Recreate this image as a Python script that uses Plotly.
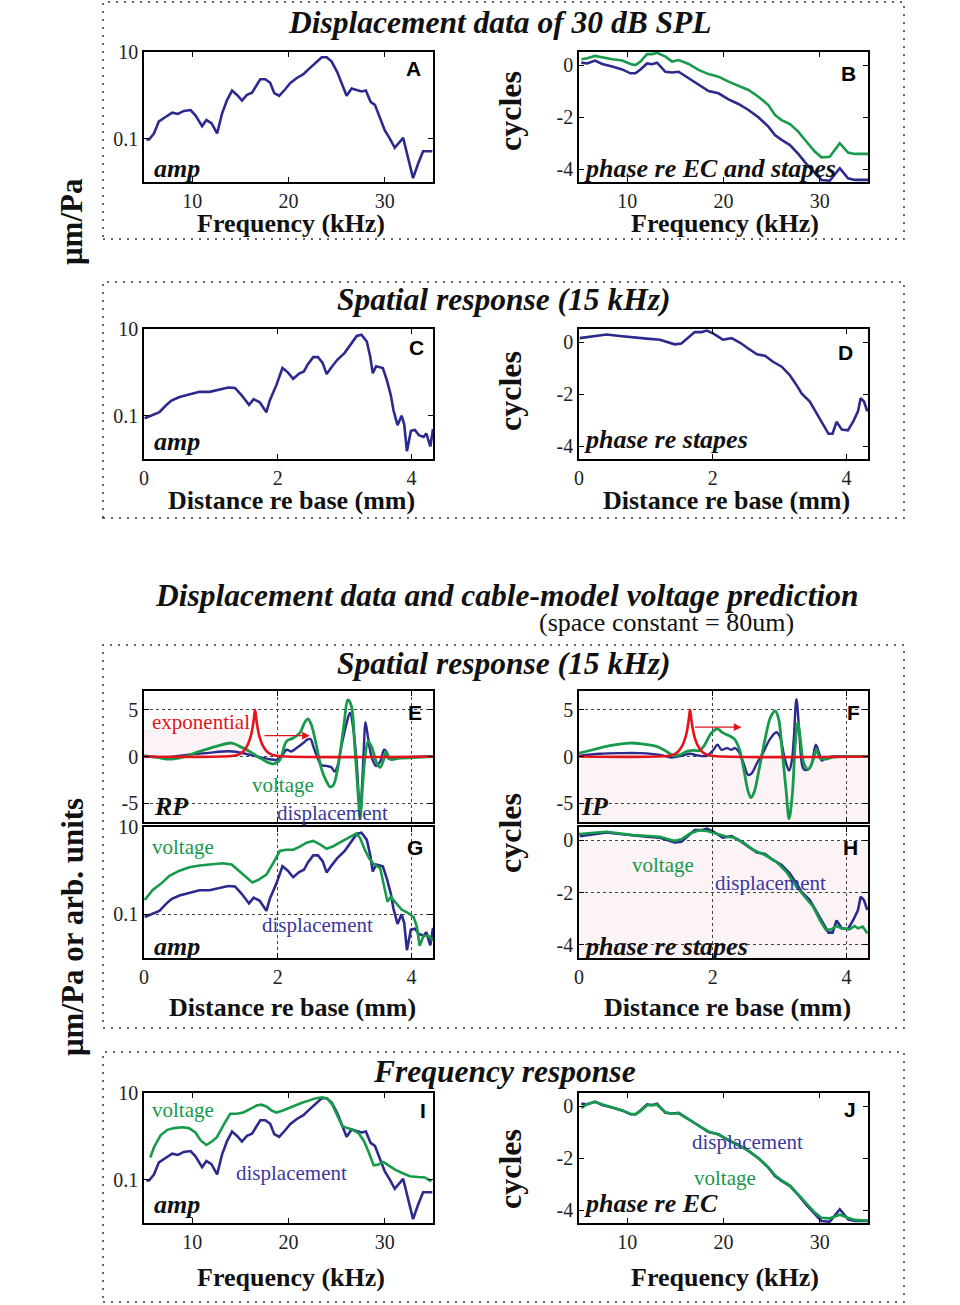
import plotly.graph_objects as go

W, H = 960, 1305
BLUE = '#2c2a8c'
BLUE_TXT = '#3a389e'
GREEN = '#179a4b'
RED = '#e4131b'
SERIF = 'Liberation Serif'
SANS = 'Liberation Sans'

# ---------------- data ----------------
# Panel A / I : displacement amplitude vs frequency, log10(um/Pa)
freq_amp = [5.24, 5.52, 6.03, 6.55, 7.24, 7.93, 8.52, 9.14, 9.83, 10.34, 11.03, 11.48, 12.0, 12.59, 13.10,
            13.62, 14.14, 14.66, 15.17, 15.69, 16.21, 16.72, 17.07, 17.59, 18.10, 18.52, 19.03, 19.66, 20.17,
            20.86, 21.55, 22.07, 22.76, 23.45, 23.97, 24.48, 25.07, 25.52, 26.03, 26.55, 27.07, 27.59, 28.03,
            28.52, 28.97, 29.48, 30.0, 30.52, 31.03, 31.9, 32.41, 32.93, 33.45, 33.97, 34.93]
amp_disp_log10 = [-1.02, -1.02, -0.88, -0.60, -0.50, -0.40, -0.43, -0.36, -0.34, -0.46, -0.71, -0.57, -0.64,
                  -0.88, -0.42, -0.11, 0.11, 0.01, -0.12, 0.01, 0.06, 0.24, 0.37, 0.37, 0.29, 0.05, -0.01, 0.14,
                  0.28, 0.40, 0.49, 0.60, 0.74, 0.88, 0.88, 0.78, 0.53, 0.28, -0.01, 0.16, 0.12, 0.09, 0.11,
                  -0.15, -0.22, -0.50, -0.81, -1.0, -1.21, -0.98, -1.47, -1.91, -1.58, -1.29, -1.29]
# Panel I voltage amplitude vs frequency, log10(arb.)
freq_volt = [5.65, 6.06, 6.74, 7.43, 8.12, 8.97, 9.66, 10.34, 10.86, 11.47, 12.05, 12.57, 13.25, 13.94, 14.62,
             15.31, 15.99, 16.68, 17.19, 17.71, 18.22, 18.73, 19.35, 20.03, 20.79, 21.47, 22.16, 22.84, 23.53,
             24.04, 24.55, 25.07, 25.58, 26.10, 26.61, 27.29, 27.81, 28.32, 28.84, 29.35, 29.86, 30.38, 31.06,
             31.75, 32.60, 33.46, 34.14, 34.83]
amp_volt_log10 = [-0.49, -0.24, 0.03, 0.15, 0.19, 0.21, 0.19, 0.09, -0.09, -0.20, -0.12, -0.02, 0.26, 0.52,
                  0.52, 0.55, 0.63, 0.71, 0.73, 0.69, 0.60, 0.55, 0.59, 0.65, 0.73, 0.78, 0.83, 0.88, 0.90,
                  0.87, 0.73, 0.50, 0.24, 0.19, 0.16, 0.07, -0.10, -0.36, -0.67, -0.65, -0.59, -0.67, -0.77,
                  -0.84, -0.92, -0.94, -0.95, -1.04]

# Panel B / J : phase vs frequency (cycles)
freq_ph = [5.24, 5.86, 6.66, 7.41, 8.45, 9.48, 10.34, 10.86, 11.38, 12.07, 12.59, 13.10, 13.97, 14.66, 15.34,
           16.38, 17.41, 18.45, 19.48, 20.52, 21.55, 22.59, 23.62, 24.66, 25.34, 26.03, 26.9, 27.76, 28.62,
           29.48, 30.17, 31.03, 31.55, 32.07, 32.93, 33.62, 35.0]
ph_disp_re_ec = [0.09, 0.06, 0.17, 0.04, -0.06, -0.17, -0.32, -0.32, -0.17, 0.06, 0.03, 0.09, -0.26, -0.29,
                 -0.26, -0.51, -0.77, -1.0, -1.09, -1.32, -1.5, -1.73, -2.01, -2.37, -2.69, -2.88, -3.08,
                 -3.42, -3.81, -4.14, -4.42, -4.45, -4.23, -3.97, -4.36, -4.42, -4.42]
ph_disp_re_stapes = [0.22, 0.26, 0.35, 0.29, 0.22, 0.17, 0.04, 0.0, 0.13, 0.42, 0.42, 0.47, 0.32, 0.13, 0.19,
                     0.04, -0.19, -0.35, -0.45, -0.64, -0.79, -0.96, -1.22, -1.54, -1.92, -2.12, -2.27, -2.56,
                     -2.95, -3.33, -3.55, -3.53, -3.27, -3.01, -3.37, -3.42, -3.42]
ph_volt_re_ec = [-0.08, 0.08, 0.15, 0.05, -0.06, -0.17, -0.30, -0.32, -0.20, 0.03, 0.04, 0.05, -0.24, -0.30,
                 -0.28, -0.50, -0.75, -0.98, -1.10, -1.30, -1.50, -1.72, -2.0, -2.36, -2.66, -2.86, -3.06,
                 -3.40, -3.78, -4.10, -4.30, -4.32, -4.25, -4.18, -4.30, -4.38, -4.42]

# Panel C / G : spatial amplitude (15 kHz), log10
dist_amp = [0.01, 0.11, 0.23, 0.33, 0.41, 0.53, 0.68, 0.83, 0.98, 1.13, 1.26, 1.36, 1.46, 1.57, 1.64, 1.73,
            1.83, 1.88, 1.98, 2.07, 2.15, 2.23, 2.32, 2.39, 2.45, 2.53, 2.60, 2.67, 2.73, 2.80, 2.89, 3.0,
            3.09, 3.18, 3.25, 3.33, 3.38, 3.42, 3.47, 3.57, 3.63, 3.69, 3.73, 3.79, 3.85, 3.89, 3.93, 3.99,
            4.05, 4.11, 4.18, 4.22, 4.28, 4.32]
sp_amp_disp_log10 = [-1.06, -1.0, -0.92, -0.76, -0.65, -0.57, -0.51, -0.45, -0.45, -0.39, -0.35, -0.36, -0.53,
                     -0.75, -0.62, -0.69, -0.92, -0.65, -0.29, 0.10, 0.0, -0.15, -0.03, 0.02, 0.19, 0.35,
                     0.35, 0.22, -0.04, 0.11, 0.29, 0.45, 0.65, 0.84, 0.87, 0.71, 0.37, -0.02, 0.14, 0.10,
                     -0.18, -0.53, -0.88, -1.22, -1.0, -1.20, -1.82, -1.35, -1.33, -1.45, -1.49, -1.41,
                     -1.71, -1.31]
dist_amp_v = [0.01, 0.13, 0.26, 0.38, 0.53, 0.68, 0.83, 0.98, 1.18, 1.31, 1.43, 1.53, 1.62, 1.71, 1.83, 1.93,
              2.03, 2.13, 2.23, 2.33, 2.43, 2.53, 2.63, 2.73, 2.83, 2.93, 3.05, 3.17, 3.23, 3.30, 3.37, 3.44,
              3.53, 3.59, 3.64, 3.69, 3.75, 3.85, 3.95, 4.03, 4.08, 4.12, 4.18, 4.25, 4.32]
sp_amp_volt_log10 = [-0.67, -0.44, -0.29, -0.12, 0.0, 0.08, 0.12, 0.14, 0.17, 0.14, -0.02, -0.17, -0.27,
                     -0.21, -0.09, 0.17, 0.45, 0.48, 0.48, 0.55, 0.64, 0.68, 0.60, 0.50, 0.56, 0.65, 0.75,
                     0.85, 0.75, 0.48, 0.27, 0.14, 0.06, -0.40, -0.71, -0.60, -0.71, -0.89, -0.97, -1.06,
                     -1.29, -1.72, -1.49, -1.49, -1.60]

# Panel D / H : spatial phase re stapes (cycles)
dist_ph = [0.01, 0.21, 0.41, 0.61, 0.81, 1.01, 1.21, 1.33, 1.43, 1.53, 1.63, 1.73, 1.83, 1.91, 2.01, 2.15,
           2.28, 2.41, 2.53, 2.66, 2.78, 2.90, 3.03, 3.15, 3.25, 3.33, 3.45, 3.55, 3.64, 3.73, 3.79, 3.85,
           3.93, 4.02, 4.10, 4.17, 4.21, 4.26, 4.31]
sp_ph_disp = [0.15, 0.23, 0.29, 0.23, 0.17, 0.13, 0.09, 0.0, -0.09, -0.06, 0.17, 0.38, 0.38, 0.44, 0.32, 0.09,
              0.15, -0.03, -0.25, -0.47, -0.53, -0.76, -0.95, -1.27, -1.65, -1.99, -2.29, -2.73, -3.17,
              -3.53, -3.53, -3.07, -3.37, -3.40, -3.05, -2.67, -2.16, -2.29, -2.67]
dist_ph_v = [0.0, 0.41, 0.81, 1.21, 1.43, 1.53, 1.66, 1.81, 1.93, 2.06, 2.21, 2.31, 2.46, 2.61, 2.78, 2.95,
             3.10, 3.25, 3.38, 3.50, 3.60, 3.69, 3.78, 3.85, 3.93, 4.05, 4.12, 4.17, 4.24, 4.31]
sp_ph_volt = [0.23, 0.32, 0.19, 0.13, -0.03, 0.03, 0.25, 0.38, 0.34, 0.23, 0.13, 0.10, -0.10, -0.38, -0.57,
              -0.83, -1.21, -1.78, -2.18, -2.54, -3.05, -3.43, -3.40, -3.28, -3.37, -3.40, -3.28, -3.37,
              -3.30, -3.56]

# Panel E : real part (RP)
dist_rp_d = [0, 0.33, 0.63, 0.93, 1.18, 1.33, 1.43, 1.58, 1.73, 1.88, 1.98, 2.05, 2.13, 2.20, 2.28, 2.38, 2.44,
             2.49, 2.53, 2.59, 2.65, 2.73, 2.80, 2.85, 2.89, 2.95, 3.03, 3.08, 3.13, 3.18, 3.23, 3.26, 3.29,
             3.31, 3.35, 3.40, 3.47, 3.53, 3.59, 3.62, 3.65, 3.73, 3.93, 4.32]
rp_disp = [0, -0.07, 0.18, 0.36, 0.54, 0.54, 0.43, 0.18, -0.07, -0.29, -0.36, -0.07, 0.72, 0.54, 0.90, 1.44,
           1.80, 1.87, 1.08, -0.07, -0.90, -1.01, -1.15, -1.62, -1.08, 1.08, 3.60, 4.68, 2.88, -0.72, -6.0,
           -3.0, 1.5, 3.67, 1.98, 0.0, -1.01, -0.54, 0.72, 0.54, -0.18, -0.18, -0.07, 0]
dist_rp_v = [0, 0.18, 0.38, 0.58, 0.83, 1.08, 1.31, 1.43, 1.58, 1.78, 1.94, 2.03, 2.13, 2.23, 2.33, 2.40, 2.45,
             2.50, 2.58, 2.65, 2.73, 2.78, 2.83, 2.90, 2.98, 3.05, 3.10, 3.15, 3.20, 3.23, 3.26, 3.30, 3.35,
             3.40, 3.48, 3.53, 3.59, 3.62, 3.68, 3.83, 4.32]
rp_volt = [0.07, -0.07, -0.29, -0.07, 0.54, 1.08, 1.44, 1.08, 0.54, -0.36, -0.79, -0.36, 1.62, 1.98, 2.52, 3.60,
           4.03, 3.42, 1.08, -1.26, -2.70, -3.24, -3.06, -1.08, 2.88, 6.04, 5.40, 1.08, -3.96, -6.65, -3.96,
           -0.36, 1.62, 1.08, -0.72, -1.15, -0.18, 0.54, -0.29, -0.18, 0]

# Panel F : imaginary part (IP)
dist_ip_d = [0, 0.31, 0.61, 0.91, 1.21, 1.38, 1.53, 1.66, 1.76, 1.91, 2.01, 2.07, 2.13, 2.21, 2.28, 2.33, 2.40,
             2.46, 2.53, 2.58, 2.66, 2.75, 2.85, 2.95, 3.0, 3.08, 3.14, 3.18, 3.21, 3.25, 3.29, 3.33, 3.36,
             3.43, 3.48, 3.54, 3.59, 3.63, 3.68, 3.80, 4.31]
ip_disp = [0.07, 0.29, 0.36, 0.36, 0.18, -0.11, 0.07, 0.29, 0.14, 0.07, 0.72, 1.26, 0.72, 0.90, 0.72, 0.90, 0.36,
           -0.72, -1.98, -1.80, -0.72, 0.36, 1.80, 2.59, 2.16, -0.36, -1.5, -0.5, 1.80, 6.12, 2.88, -0.72,
           -1.37, -1.37, -0.72, 1.26, 0.36, -0.43, -0.18, 0, 0]
dist_ip_v = [0, 0.21, 0.46, 0.76, 0.96, 1.16, 1.31, 1.41, 1.51, 1.61, 1.71, 1.81, 1.88, 1.98, 2.07, 2.15, 2.26,
             2.33, 2.40, 2.46, 2.53, 2.57, 2.62, 2.69, 2.78, 2.86, 2.93, 2.98, 3.04, 3.10, 3.14, 3.19, 3.23,
             3.27, 3.31, 3.36, 3.43, 3.50, 3.55, 3.60, 3.68, 3.80, 4.31]
ip_volt = [0.36, 0.72, 1.15, 1.44, 1.33, 1.08, 0.54, 0.07, 0.18, 0.54, 0.65, 0.65, 1.26, 2.52, 2.95, 2.52, 2.16,
           1.80, 0.72, -1.26, -3.78, -4.39, -3.78, -1.44, 1.80, 4.14, 4.86, 4.14, 0.36, -3.96, -6.65, -3.96,
           1.08, 3.60, 1.80, -0.72, -1.37, -0.36, 0.72, -0.18, -0.29, -0.07, 0]

# Exponential kernel (red) in E and F
dist_exp = [0, 1.31, 1.41, 1.48, 1.54, 1.58, 1.61, 1.64, 1.66, 1.68, 1.71, 1.74, 1.78, 1.84, 1.91, 2.01, 4.32]
exp_val = [0, 0.05, 0.2, 0.5, 1.1, 1.8, 2.6, 3.9, 5.0, 3.9, 2.6, 1.8, 1.1, 0.5, 0.2, 0.05, 0]

# tick labels
freq_ticks = [10, 20, 30]
dist_ticks = [0, 2, 4]
amp_ticks = [0.1, 10]
amp_ticktext = ['0.1', '10']
phase_ticks = [-4, -2, 0]
phase_ticktext = ['-4', '-2', '0']
cplx_ticks = [-5, 0, 5]
cplx_ticktext = ['-5', '0', '5']

# ---------------- figure ----------------
fig = go.Figure()


def lg(v):
    return [10 ** a for a in v]


def axname(i, kind):
    return kind if i == 1 else f'{kind}{i}'


def line(i, x, y, color, width=2.6, shape='linear'):
    fig.add_trace(go.Scatter(x=x, y=y, mode='lines', hoverinfo='skip',
                             line=dict(color=color, width=width, shape=shape),
                             xaxis=axname(i, 'x'), yaxis=axname(i, 'y')))


# A
line(1, freq_amp, lg(amp_disp_log10), BLUE)
# B
line(2, freq_ph, ph_disp_re_ec, BLUE)
line(2, freq_ph, ph_disp_re_stapes, GREEN)
# C
line(3, dist_amp, lg(sp_amp_disp_log10), BLUE)
# D
line(4, dist_ph, sp_ph_disp, BLUE)
# E
line(5, dist_rp_d, rp_disp, BLUE, 2.4, 'spline')
line(5, dist_rp_v, rp_volt, GREEN, 2.8, 'spline')
line(5, dist_exp, exp_val, RED, 2.6, 'spline')
# F
line(6, dist_ip_d, ip_disp, BLUE, 2.4, 'spline')
line(6, dist_ip_v, ip_volt, GREEN, 2.8, 'spline')
line(6, dist_exp, exp_val, RED, 2.6, 'spline')
# G
line(7, dist_amp, lg(sp_amp_disp_log10), BLUE)
line(7, dist_amp_v, lg(sp_amp_volt_log10), GREEN)
# H
line(8, dist_ph, sp_ph_disp, BLUE)
line(8, dist_ph_v, sp_ph_volt, GREEN)
# I
line(9, freq_amp, lg(amp_disp_log10), BLUE)
line(9, freq_volt, lg(amp_volt_log10), GREEN)
# J
line(10, freq_ph, ph_disp_re_ec, BLUE)
line(10, freq_ph, ph_volt_re_ec, GREEN)

# panel pixel boxes (left, top, right, bottom)
LX = (144, 433)
RX = (579, 868)
boxes = {
    1: (LX, (52, 182)), 2: (RX, (52, 182)),
    3: (LX, (329, 459)), 4: (RX, (329, 459)),
    5: (LX, (691, 822)), 6: (RX, (691, 822)),
    7: (LX, (827, 958)), 8: (RX, (827, 958)),
    9: (LX, (1093, 1223)), 10: (RX, (1093, 1223)),
}

tickfont = dict(family=SERIF, size=20, color='#222')
base_axis = dict(showline=True, linecolor='black', linewidth=1.6, mirror='ticks', ticks='inside',
                 ticklen=5, tickwidth=1.3, tickcolor='black', zeroline=False, showgrid=False,
                 tickfont=tickfont, fixedrange=True, automargin=False)
grid = dict(showgrid=True, griddash='dot', gridcolor='#444', gridwidth=1.2)

xkind = {1: 'f', 2: 'f', 3: 'd', 4: 'd', 5: 'd', 6: 'd', 7: 'd', 8: 'd', 9: 'f', 10: 'f'}
ykind = {1: 'a', 2: 'p', 3: 'a', 4: 'p', 5: 'c', 6: 'c', 7: 'a', 8: 'p', 9: 'a', 10: 'p'}
gridded = {5, 6, 7, 8}

lay = {}
for i, ((x0, x1), (y0, y1)) in boxes.items():
    xa = dict(base_axis)
    ya = dict(base_axis)
    xa['domain'] = [x0 / W, x1 / W]
    ya['domain'] = [1 - y1 / H, 1 - y0 / H]
    xa['anchor'] = axname(i, 'y')
    ya['anchor'] = axname(i, 'x')
    if xkind[i] == 'f':
        xa.update(range=[5, 35], tickvals=freq_ticks, ticktext=[str(t) for t in freq_ticks])
    else:
        xa.update(range=[0, 4.32], tickvals=dist_ticks, ticktext=[str(t) for t in dist_ticks])
    if i in (5, 6):
        xa['showticklabels'] = False
    if ykind[i] == 'a':
        ya.update(type='log', range=[-2, 1], tickvals=amp_ticks, ticktext=amp_ticktext)
    elif ykind[i] == 'p':
        ya.update(range=[-4.5, 0.5], tickvals=phase_ticks, ticktext=phase_ticktext)
    else:
        ya.update(range=[-7, 7], tickvals=cplx_ticks, ticktext=cplx_ticktext)
    if i in gridded:
        xa.update(grid)
        ya.update(grid)
    lay['xaxis' if i == 1 else f'xaxis{i}'] = xa
    lay['yaxis' if i == 1 else f'yaxis{i}'] = ya

fig.update_layout(**lay)

ann = []


def txt(s, x, y, size, color='#111', family=SERIF, xanchor='center', angle=0):
    ann.append(dict(text=s, x=x / W, y=1 - y / H, xref='paper', yref='paper', showarrow=False,
                    xanchor=xanchor, yanchor='middle', textangle=angle,
                    font=dict(family=family, size=size, color=color)))


# titles
TS = 31.5
txt('<b><i>Displacement data of 30 dB SPL</i></b>', 500, 23, TS)
txt('<b><i>Spatial response (15 kHz)</i></b>', 503, 299, TS)
txt('<b><i>Displacement data and cable-model voltage prediction</i></b>', 507, 595, TS)
txt('(space constant = 80um)', 666, 623, 26)
txt('<b><i>Spatial response (15 kHz)</i></b>', 503, 663, TS)
txt('<b><i>Frequency response</i></b>', 504, 1071, TS)

# y-axis titles
txt('<b>\u03bcm/Pa</b>', 72, 222, 31)
ann[-1]['textangle'] = -90
txt('<b>\u03bcm/Pa or arb. units</b>', 72, 927, 31, angle=-90)
for yy in (111, 391, 833, 1169):
    txt('<b>cycles</b>', 510, yy, 32, angle=-90)

# x-axis titles
for (x, y, s) in [(291, 223, 'Frequency (kHz)'), (725, 223, 'Frequency (kHz)'),
                  (291, 501, 'Distance re base (mm)'), (726, 501, 'Distance re base (mm)'),
                  (292, 1007, 'Distance re base (mm)'), (727, 1007, 'Distance re base (mm)'),
                  (291, 1277, 'Frequency (kHz)'), (725, 1277, 'Frequency (kHz)')]:
    txt(f'<b>{s}</b>', x, y, 26)

# panel letters
for (s, x, y) in [('A', 413, 69), ('B', 848, 73), ('C', 416, 348), ('D', 845, 353), ('E', 415, 712),
                  ('F', 853, 712), ('G', 415, 848), ('H', 850, 848), ('I', 423, 1110), ('J', 850, 1109)]:
    txt(f'<b>{s}</b>', x, y, 21, color='black', family=SANS)

# in-panel labels
for (s, x, y) in [('amp', 152, 168), ('amp', 152, 441), ('amp', 152, 946), ('amp', 152, 1204),
                  ('phase re EC and stapes', 582, 168), ('phase re stapes', 582, 440),
                  ('phase re stapes', 582, 946), ('phase re EC', 582, 1203),
                  ('RP', 152, 806), ('IP', 579, 806)]:
    txt(f'<b><i>{s}</i></b>', x, y, 26, xanchor='left')

txt('exponential', 201, 722, 21, color=RED)
txt('voltage', 283, 785, 21, color=GREEN)
txt('displacement', 332, 813, 21, color=BLUE_TXT)
txt('voltage', 183, 847, 21, color=GREEN)
txt('displacement', 317, 925, 21, color=BLUE_TXT)
txt('voltage', 663, 865, 21, color=GREEN)
txt('displacement', 770, 883, 21, color=BLUE_TXT)
txt('voltage', 183, 1110, 21, color=GREEN)
txt('displacement', 291, 1173, 21, color=BLUE_TXT)
txt('displacement', 747, 1142, 21, color=BLUE_TXT)
txt('voltage', 725, 1178, 21, color=GREEN)

# red arrows (data coordinates)
ann.append(dict(x=2.48, y=2.23, ax=1.78, ay=2.23, xref='x5', yref='y5', axref='x5', ayref='y5',
                showarrow=True, arrowhead=2, arrowsize=1.2, arrowwidth=1.3, arrowcolor=RED, text=''))
ann.append(dict(x=2.43, y=3.13, ax=1.71, ay=3.13, xref='x6', yref='y6', axref='x6', ayref='y6',
                showarrow=True, arrowhead=2, arrowsize=1.2, arrowwidth=1.3, arrowcolor=RED, text=''))

shapes = []
# dotted frames
for (y0, y1) in [(2, 239), (282, 518), (645, 1028), (1052, 1302)]:
    shapes.append(dict(type='rect', xref='paper', yref='paper', x0=103 / W, x1=904 / W,
                       y0=1 - y1 / H, y1=1 - y0 / H, line=dict(color='#333', width=1.5, dash='2px,6px'),
                       fillcolor='rgba(0,0,0,0)', layer='below'))
# faint pink backgrounds
PINK = '#fbf3f6'
shapes.append(dict(type='rect', xref='x6', yref='y6', x0=0, x1=4.32, y0=-7, y1=-0.15, fillcolor=PINK,
                   line=dict(width=0), layer='below'))
shapes.append(dict(type='rect', xref='x5', yref='y5', x0=0, x1=1.58, y0=0.15, y1=2.9, fillcolor=PINK,
                   line=dict(width=0), layer='below'))
shapes.append(dict(type='rect', xref='x8', yref='y8', x0=0, x1=4.32, y0=-4.5, y1=-0.05, fillcolor=PINK,
                   line=dict(width=0), layer='below'))

fig.update_layout(width=W, height=H, autosize=False,
                  margin=dict(l=0, r=0, t=0, b=0, pad=0, autoexpand=False), showlegend=False,
                  paper_bgcolor='white', plot_bgcolor='white', annotations=ann, shapes=shapes)

pin = ("document.body.style.margin='0';document.body.style.overflow='hidden';"
       "document.documentElement.style.overflow='hidden';"
       "var d=document.getElementById('{plot_id}');d.style.position='fixed';"
       "d.style.left='0px';d.style.top='0px';")
fig.write_html('out.html', post_script=pin, config={'displayModeBar': False})
